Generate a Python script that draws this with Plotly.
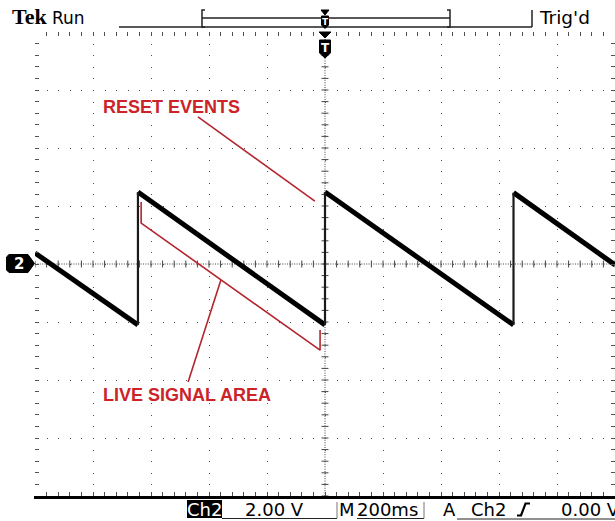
import plotly.graph_objects as go

# ---------------- data (read from the screen) ----------------
# time in ms (200 ms/div, trigger at 0), voltage in V (2.00 V/div)
ramp_t_ms = [-1000, -645, None, -645, 0, None, 0, 650, None, 650, 1000]
ramp_v = [0.38, -2.10, None, 2.48, -2.10, None, 2.48, -2.10, None, 2.46, -0.03]
edge_t_ms = [-645, -645, None, 0, 0, None, 650, 650]
edge_v = [-2.10, 2.48, None, -2.10, 2.48, None, -2.10, 2.46]

# red call-outs
reset_label = "RESET EVENTS"
reset_label_pos = (-769, 5.40)
reset_pointer_t = [-438, -35]
reset_pointer_v = [5.07, 2.17]
live_label = "LIVE SIGNAL AREA"
live_label_pos = (-769, -4.53)
live_bracket_t = [-634, -634, -17, -17]
live_bracket_v = [2.14, 1.41, -2.97, -2.28]
live_pointer_t = [-472, -359]
live_pointer_v = [-4.07, -0.55]

# scope texts
header_brand = "Tek"
header_state = "Run"
header_trig = "Trig'd"
ch_label = "Ch2"
volts_div = "2.00 V"
time_div = "200ms"
trig_src = "Ch2"
trig_level = "0.00 V"

# ---------------- geometry ----------------
W, H = 615, 521
L, R, T, B = 35, 0, 32, 25
PW, PH = W - L - R, H - T - B
X_RANGE = [-1000, 1000]
Y_RANGE = [-8, 8]

def px(x):
    return (x - L) / PW

def py(y):
    return (T + PH - y) / PH

def path(points, close=True):
    s = "M " + " L ".join(f"{px(a):.5f},{py(b):.5f}" for a, b in points)
    return s + (" Z" if close else "")

RED = "#cc2329"
RED_LINE = "#b3262e"
GRID = "#505050"

fig = go.Figure()

fig.add_trace(go.Scatter(x=ramp_t_ms, y=ramp_v, mode="lines",
                         line=dict(color="black", width=5), hoverinfo="skip",
                         showlegend=False))
fig.add_trace(go.Scatter(x=edge_t_ms, y=edge_v, mode="lines",
                         line=dict(color="#1a1a1a", width=2.2), hoverinfo="skip",
                         showlegend=False))
# red call-out lines
fig.add_trace(go.Scatter(x=reset_pointer_t, y=reset_pointer_v, mode="lines",
                         line=dict(color=RED_LINE, width=1.6), hoverinfo="skip",
                         showlegend=False))
fig.add_trace(go.Scatter(x=live_bracket_t, y=live_bracket_v, mode="lines",
                         line=dict(color=RED_LINE, width=1.6), hoverinfo="skip",
                         showlegend=False))
fig.add_trace(go.Scatter(x=live_pointer_t, y=live_pointer_v, mode="lines",
                         line=dict(color=RED_LINE, width=1.6), hoverinfo="skip",
                         showlegend=False))

shapes = []
# center crosshair (dense dotted)
shapes.append(dict(type="line", xref="x", yref="y", x0=0, x1=0, y0=Y_RANGE[0], y1=Y_RANGE[1],
                   line=dict(color="#444", width=1, dash="1px,1.4px"), layer="below"))
shapes.append(dict(type="line", xref="x", yref="y", x0=X_RANGE[0], x1=X_RANGE[1], y0=0, y1=0,
                   line=dict(color="#444", width=1, dash="1px,1.4px"), layer="below"))
# minor ticks on the crosshair
for k in range(-25, 26):
    t = k * 40
    shapes.append(dict(type="line", xref="x", yref="y", x0=t, x1=t, y0=-0.12, y1=0.12,
                       line=dict(color="#444", width=1), layer="below"))
for k in range(-20, 21):
    v = k * 0.4
    shapes.append(dict(type="line", xref="x", yref="y", x0=-12, x1=12, y0=v, y1=v,
                       line=dict(color="#444", width=1), layer="below"))

# bottom solid separator
shapes.append(dict(type="line", xref="paper", yref="paper", x0=px(34), x1=px(615),
                   y0=py(497.5), y1=py(497.5), line=dict(color="black", width=3)))

# header: record bar
shapes.append(dict(type="line", xref="paper", yref="paper", x0=px(119), x1=px(532),
                   y0=py(27), y1=py(27), line=dict(color="#222", width=1.5)))
shapes.append(dict(type="line", xref="paper", yref="paper", x0=px(202), x1=px(450),
                   y0=py(18), y1=py(18), line=dict(color="#222", width=1.5)))
shapes.append(dict(type="path", xref="paper", yref="paper",
                   path=path([(205, 10), (202, 10), (202, 27), (205, 27)], close=False),
                   line=dict(color="#222", width=1.5)))
shapes.append(dict(type="path", xref="paper", yref="paper",
                   path=path([(447, 10), (450, 10), (450, 27), (447, 27)], close=False),
                   line=dict(color="#222", width=1.5)))
shapes.append(dict(type="line", xref="paper", yref="paper", x0=px(532), x1=px(532),
                   y0=py(10), y1=py(27), line=dict(color="#222", width=1.5)))
# small trigger marker in the record bar
shapes.append(dict(type="path", xref="paper", yref="paper",
                   path=path([(321, 10), (329, 10), (325, 15)]),
                   fillcolor="black", line=dict(color="black", width=1)))
shapes.append(dict(type="path", xref="paper", yref="paper",
                   path=path([(321.5, 16), (328.5, 16), (328.5, 25), (325, 28.5), (321.5, 25)]),
                   fillcolor="black", line=dict(color="black", width=1)))
# trigger position marker on the graticule
shapes.append(dict(type="path", xref="paper", yref="paper",
                   path=path([(319, 32), (331, 32), (325, 38)]),
                   fillcolor="black", line=dict(color="black", width=1)))
shapes.append(dict(type="path", xref="paper", yref="paper",
                   path=path([(319.5, 40), (330.5, 40), (330.5, 53), (325, 58), (319.5, 53)]),
                   fillcolor="black", line=dict(color="black", width=1)))
# channel 2 ground marker
shapes.append(dict(type="path", xref="paper", yref="paper",
                   path=path([(9, 254.5), (28, 254.5), (34.5, 263.5), (28, 272.5), (9, 272.5), (6.5, 270), (6.5, 257)]),
                   fillcolor="black", line=dict(color="black", width=1)))

# readout boxes/underlines
shapes.append(dict(type="rect", xref="paper", yref="paper", x0=px(187), x1=px(222),
                   y0=py(500), y1=py(518), fillcolor="black", line=dict(width=0)))
for x0, x1, yy in [(222, 337, 518.5), (357, 424, 518.5), (457, 615, 519)]:
    shapes.append(dict(type="line", xref="paper", yref="paper", x0=px(x0), x1=px(x1),
                       y0=py(yy), y1=py(yy), line=dict(color="#222", width=1)))
for xx in (337, 424):
    shapes.append(dict(type="line", xref="paper", yref="paper", x0=px(xx), x1=px(xx),
                       y0=py(502), y1=py(518.5), line=dict(color="#777", width=1)))
# rising-edge trigger slope glyph
shapes.append(dict(type="path", xref="paper", yref="paper",
                   path=path([(517, 515.5), (521, 515.5), (525.5, 503.5), (530, 503.5)], close=False),
                   line=dict(color="black", width=2.2)))

annotations = []

def txt(text, x, y, size, family="DejaVu Sans", color="black", xanchor="left"):
    annotations.append(dict(text=text, x=px(x), y=py(y), xref="paper", yref="paper",
                            xanchor=xanchor, yanchor="middle", showarrow=False,
                            font=dict(family=family, size=size, color=color),
                            borderpad=0))

txt("<b>" + header_brand + "</b>", 11, 17, 22, family="Liberation Serif")
txt(header_state, 51, 17.5, 17)
txt(header_trig, 538, 17.5, 18.5)
txt("<b>T</b>", 325, 22, 9, color="white", xanchor="center")
txt("<b>T</b>", 325, 47.5, 12, color="white", xanchor="center")
txt("<b>2</b>", 19, 264, 15, color="white", xanchor="center")

txt(ch_label, 204.5, 509.5, 18, color="white", xanchor="center")
txt(volts_div, 244, 509.5, 18)
txt("M", 338, 509.5, 18)
txt(time_div, 356, 509.5, 18)
txt("A", 442, 509.5, 18)
txt(trig_src, 470, 509.5, 18)
txt(trig_level, 560, 509.5, 18)

annotations.append(dict(text="<b>" + reset_label + "</b>", x=reset_label_pos[0], y=reset_label_pos[1],
                        xref="x", yref="y", xanchor="left", yanchor="middle", showarrow=False,
                        font=dict(family="Liberation Sans", size=18, color=RED), borderpad=0))
annotations.append(dict(text="<b>" + live_label + "</b>", x=live_label_pos[0], y=live_label_pos[1],
                        xref="x", yref="y", xanchor="left", yanchor="middle", showarrow=False,
                        font=dict(family="Liberation Sans", size=18, color=RED), borderpad=0))

axis_common = dict(showticklabels=False, zeroline=False, showline=False,
                   showgrid=True, gridcolor=GRID, gridwidth=1,
                   ticks="inside", ticklen=4, tickcolor=GRID, tickwidth=1,
                   mirror="allticks", fixedrange=True)

fig.update_layout(
    width=W, height=H,
    margin=dict(l=L, r=R, t=T, b=B, pad=0),
    paper_bgcolor="white", plot_bgcolor="white",
    xaxis=dict(range=X_RANGE, dtick=200, tick0=0, griddash="1px,10.6px",
               minor=dict(dtick=40, ticks="inside", ticklen=4, tickcolor=GRID, showgrid=False),
               **axis_common),
    yaxis=dict(range=Y_RANGE, dtick=2, tick0=0, griddash="1px,10.6px",
               minor=dict(dtick=0.4, ticks="inside", ticklen=4, tickcolor=GRID, showgrid=False),
               **axis_common),
    shapes=shapes,
    annotations=annotations,
    showlegend=False,
)

fig.write_html("out.html", config={"displayModeBar": False},
               post_script="document.body.style.margin='0';document.body.style.overflow='hidden';")
